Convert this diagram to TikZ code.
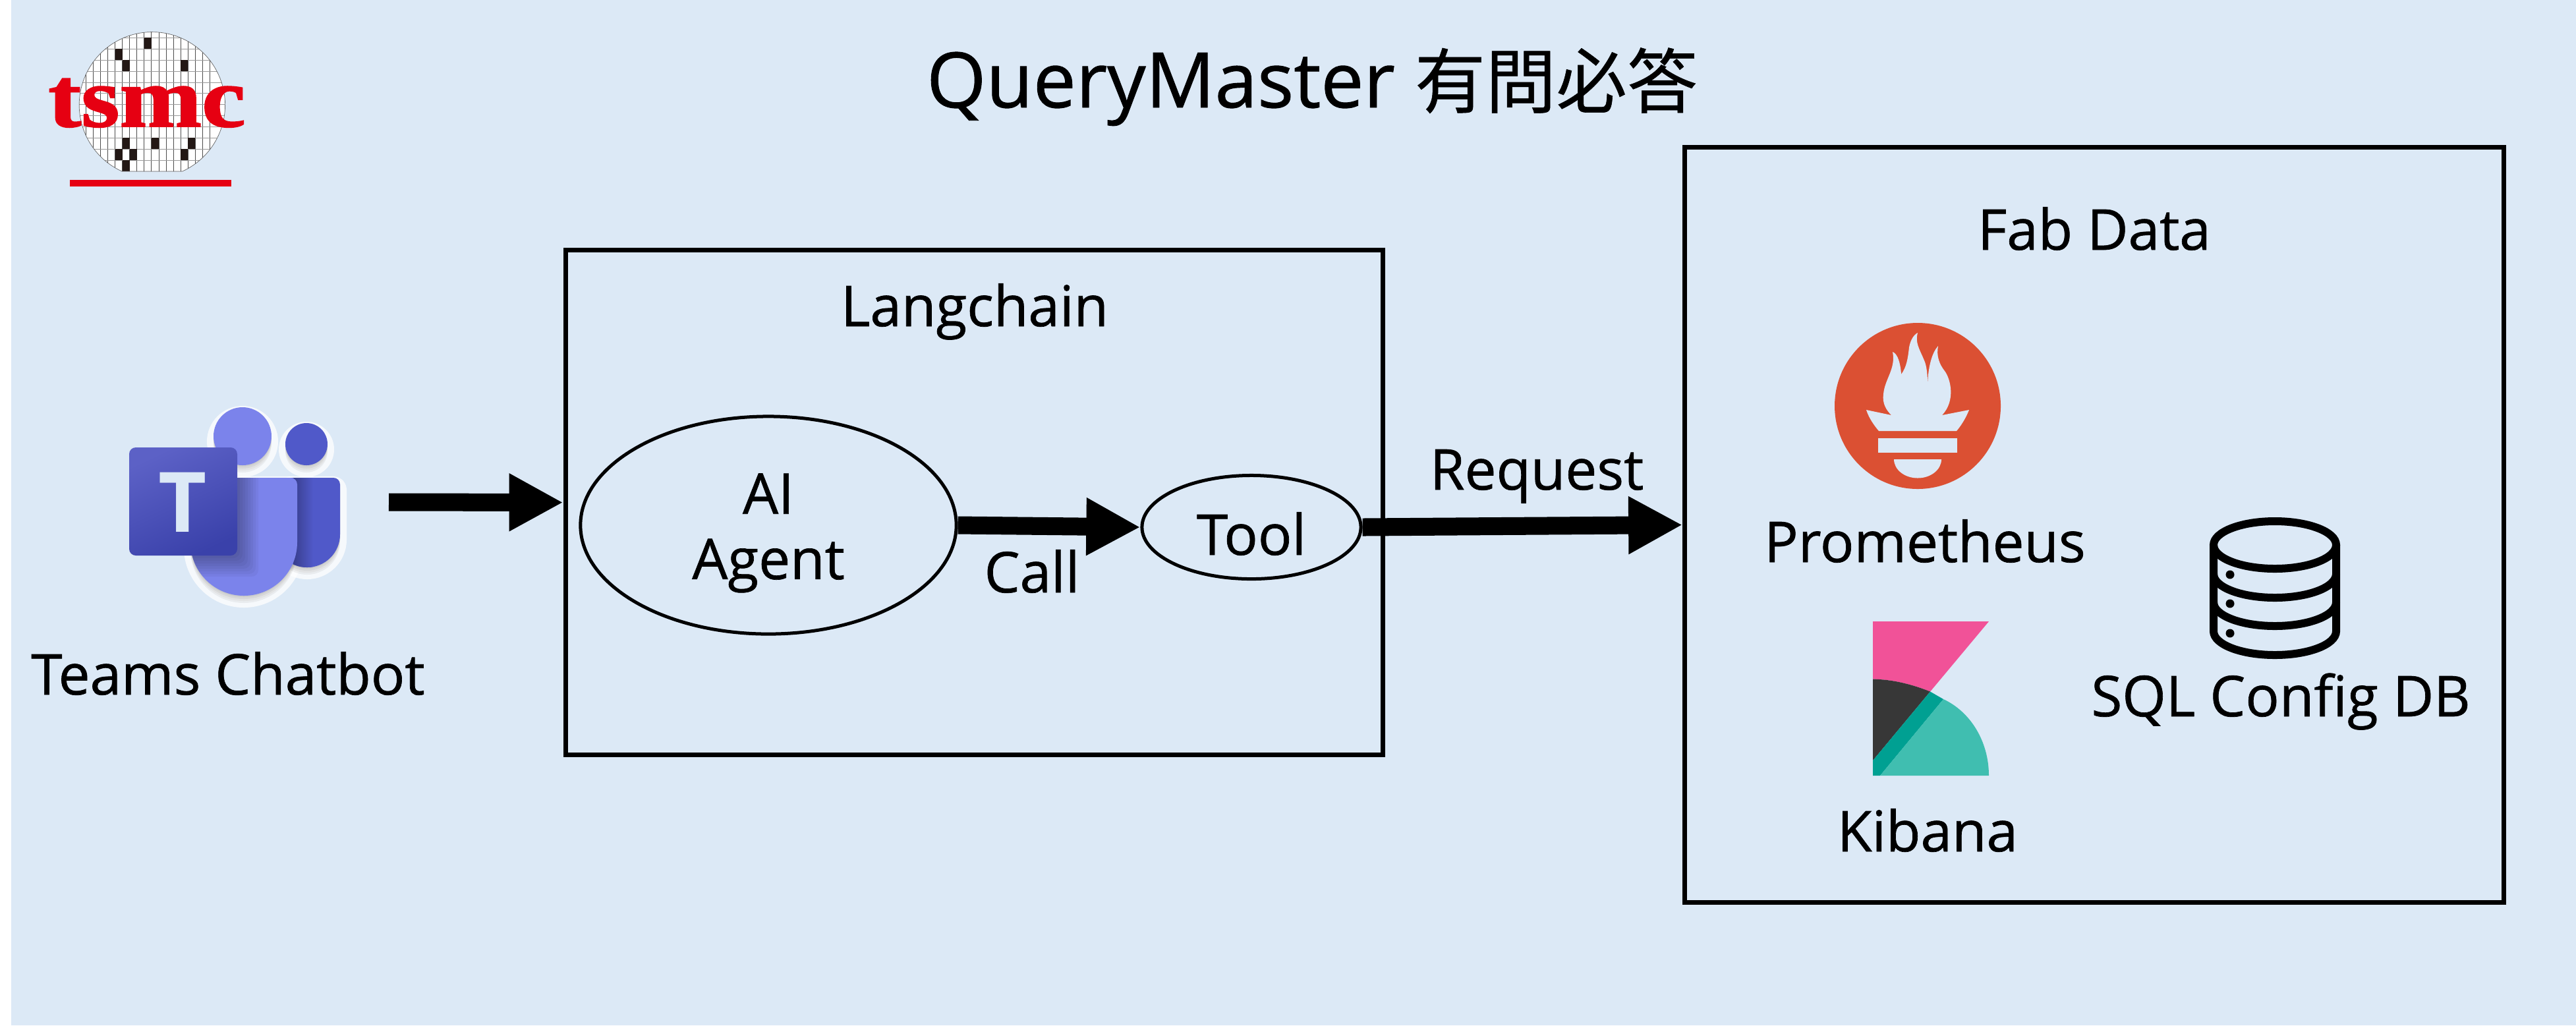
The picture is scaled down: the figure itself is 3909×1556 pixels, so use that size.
\documentclass[tikz,border=0pt]{standalone}
\usepackage{fontspec}
\usetikzlibrary{arrows.meta,positioning,shapes.geometric}
\newfontfamily\labelfont[UprightFeatures={FakeBold=0.8}]{Open Sans}
\newfontfamily\teamsfont{Open Sans}
\newfontfamily\cjkfont[UprightFeatures={FakeBold=0.5}]{Noto Sans CJK TC}
\newfontfamily\logofont[BoldFeatures={FakeBold=1.5}]{Liberation Serif}
\definecolor{mybg}{RGB}{220,233,246}
\definecolor{myred}{RGB}{230,0,18}
\definecolor{mycell}{RGB}{35,24,21}
\definecolor{mybody}{RGB}{123,131,235}
\definecolor{mydark}{RGB}{80,89,201}
\definecolor{mysqtop}{RGB}{92,97,198}
\definecolor{mysqbot}{RGB}{58,65,170}
\definecolor{myflame}{RGB}{219,80,51}
\definecolor{mypink}{RGB}{241,82,152}
\definecolor{mycoal}{RGB}{55,55,55}
\definecolor{myband}{RGB}{0,160,146}
\definecolor{myteal}{RGB}{64,190,176}
% path pieces of the teams icon, each used several times
\newcommand{\bigbody}{(289,823) -- (289,725) -- (441,725) arc[start angle=270,end angle=360,radius=10] -- (451,823) arc[start angle=0,end angle=180,radius=81] -- cycle}
\newcommand{\smallbody}{(440,725) -- (506,725) arc[start angle=270,end angle=360,radius=10] -- (516,811) arc[start angle=0,end angle=135,radius=50] -- cycle}
\newcommand{\waferoutline}{(185,260) arc[start angle=114.5,end angle=425.5,radius=110.7] -- cycle}

\begin{document}
\begin{tikzpicture}[x=0.01cm,y=-0.01cm,
  txt/.style={font=\labelfont\fontsize{24.3}{28.2}\selectfont,inner sep=0pt,anchor=base},
  boxnode/.style={draw,rectangle,line width=0.7mm},
  ellnode/.style={draw,ellipse,line width=0.5mm,inner sep=0pt,align=center,font=\labelfont\fontsize{24.3}{28.2}\selectfont},
  blockarrow/.style={line width=0.27cm,-{Triangle[length=0.82cm,width=0.82cm]}},
  softshadow/.style={fill=black,opacity=.05},
  halo/.style={fill=white,draw=white,opacity=.75,line width=0.2cm,line join=round}]

  \useasboundingbox (0,0) rectangle (3909,1556);
  \fill[mybg] (17,0) rectangle (3909,1556);

  % draw wafer logo
  \begin{scope}
    \clip \waferoutline;
    \fill[white] (110,40) rectangle (350,270);
    \foreach \i in {0,...,18}
      \draw[black!70,line width=0.07mm] ({119.3+11.05*\i},40) -- ({119.3+11.05*\i},270);
    \foreach \j in {0,...,12}
      \draw[black!40,line width=0.07mm] (110,{57.3+16.9*\j}) -- (350,{57.3+16.9*\j});
    \foreach \i/\j in {9/0,5/1,6/2,14/2,6/9,10/9,15/9,5/10,7/10,14/10,6/11}
      \fill[mycell] ({119.3+11.05*\i},{57.3+16.9*\j}) rectangle +(11.05,16.9);
  \end{scope}
  \draw[black!60,line width=0.07mm] \waferoutline;
  \node[anchor=base,inner sep=0pt,text=myred,font=\logofont\bfseries\fontsize{36.7}{39}\selectfont] (tsmc) at (223,192) {\scalebox{1.16}[1]{tsmc}};
  \fill[myred] (106,273) rectangle (351,283);

  \node[txt,font=\labelfont\fontsize{33}{40}\selectfont] (title) at (1991,163) {QueryMaster {\cjkfont\fontsize{30.5}{40}\selectfont 有問必答}};

  % draw teams icon
  \begin{scope}[shift={(0,8)}]
    \filldraw[halo] (368,662) circle[radius=44] (465,674) circle[radius=32];
    \filldraw[halo] \bigbody;
    \filldraw[halo] \smallbody;
  \end{scope}
  \foreach \d in {2,5,8,11} {
    \begin{scope}[shift={(0,\d)}]
      \fill[softshadow] (368,662) circle[radius=44] (465,674) circle[radius=32];
      \fill[softshadow] \bigbody;
      \fill[softshadow] \smallbody;
    \end{scope}
  }
  \fill[mybody] (368,662) circle[radius=44];
  \fill[mydark] (465,674) circle[radius=32];
  \fill[mydark] \smallbody;
  \begin{scope}
    \clip \smallbody;
    \shade[left color=mydark!70!black,right color=mydark] (445,725) rectangle (475,865);
  \end{scope}
  \fill[mybody] \bigbody;
  \begin{scope}
    \clip \bigbody;
    \foreach \d in {4,8,...,32}
      \fill[black,opacity=.04,rounded corners=0.1cm] (196,679) rectangle ({360+\d},{843+\d});
  \end{scope}
  \shade[rounded corners=0.1cm,top color=mysqtop,bottom color=mysqbot,shading angle=25] (196,679) rectangle (360,843);
  \node[anchor=base,inner sep=0pt,text=mybg,font=\teamsfont\bfseries\fontsize{36}{36}\selectfont] (teamsT) at (277.5,807) {T};

  \node[txt] (chatbot) at (346,1054) {Teams Chatbot};
  \coordinate (teamsout) at (590,762);

  % langchain box with agent and tool
  \node[boxnode,minimum width=12.40cm,minimum height=7.65cm] (lang) at (1478.5,762.5) {};
  \node[txt] (langtitle) at (1479,495) {Langchain};
  \node[ellnode,minimum width=5.7cm,minimum height=3.3cm] (agent) at (1166,797) {\rule{0pt}{0.85cm}AI\\Agent};
  \node[ellnode,minimum width=3.32cm,minimum height=1.57cm,text height=0.84cm,text depth=0pt] (tool) at (1899,800) {Tool};
  \node[txt] (call) at (1566,899) {Call};

  % fab data box
  \node[boxnode,minimum width=12.42cm,minimum height=11.45cm] (fab) at (3178,796.5) {};
  \node[txt] (fabtitle) at (3178,379) {Fab Data};
  \node[txt] (request) at (2332,743) {Request};

  % draw prometheus logo
  \fill[myflame] (2910,616) circle[radius=126];
  \fill[mybg] (2832,622) -- (2870,630) .. controls (2862,622) and (2856,612) .. (2858,598)
    .. controls (2860,575) and (2877,560) .. (2872,534)
    .. controls (2880,537) and (2884,552) .. (2885,568)
    .. controls (2893,557) and (2895,545) .. (2897,527)
    .. controls (2899,516) and (2904,508) .. (2910,505)
    .. controls (2906,520) and (2912,528) .. (2920,547)
    .. controls (2924,556) and (2925,570) .. (2925,583)
    .. controls (2926,555) and (2932,535) .. (2941,525)
    .. controls (2938,540) and (2943,553) .. (2951,563)
    .. controls (2960,575) and (2968,608) .. (2947,630)
    -- (2988,622) .. controls (2983,635) and (2975,647) .. (2969,654)
    -- (2851,654) .. controls (2845,647) and (2836,635) .. (2832,622) -- cycle;
  \fill[mybg] (2850,665) rectangle (2970,687);
  \fill[mybg] (2874,697) -- (2946,697) arc[start angle=0,end angle=180,x radius=36,y radius=28.5] -- cycle;
  \node[txt] (prometheus) at (2921,853) {Prometheus};

  % draw kibana logo
  \fill[mypink] (2842,943) -- (3018,943) -- (2929,1049.5) .. controls (2905,1040) and (2875,1031) .. (2842,1030.6) -- cycle;
  \fill[mycoal] (2842,1030.6) .. controls (2875,1031) and (2905,1040) .. (2929,1049.5) -- (2842,1154) -- cycle;
  \fill[myband] (2842,1154) -- (2929,1049.5) -- (2949,1061) -- (2853,1177) -- (2842,1177) -- cycle;
  \fill[myteal] (2949,1061) .. controls (2990,1080) and (3018,1125) .. (3018,1177) -- (2853,1177) -- cycle;
  \node[txt] (kibana) at (2925,1292) {Kibana};

  % draw database icon
  \draw[line width=1.2mm] (3452,827) ellipse[x radius=93,y radius=36];
  \draw[line width=1.2mm] (3359,827) -- (3359,958) arc[start angle=180,end angle=0,x radius=93,y radius=36] -- (3545,827);
  \foreach \y in {871,914}
    \draw[line width=1.2mm] (3359,\y) arc[start angle=180,end angle=0,x radius=93,y radius=36];
  \foreach \y in {872,916,961}
    \fill (3384,\y) circle[radius=6.5];
  \node[txt] (sqldb) at (3461,1087) {SQL Config DB};

  % connectors
  \draw[blockarrow] (teamsout) -- (lang.west);
  \draw[blockarrow] (agent.east) -- (tool.west);
  \draw[blockarrow] (tool.east) -- (fab.west);
\end{tikzpicture}
\end{document}
